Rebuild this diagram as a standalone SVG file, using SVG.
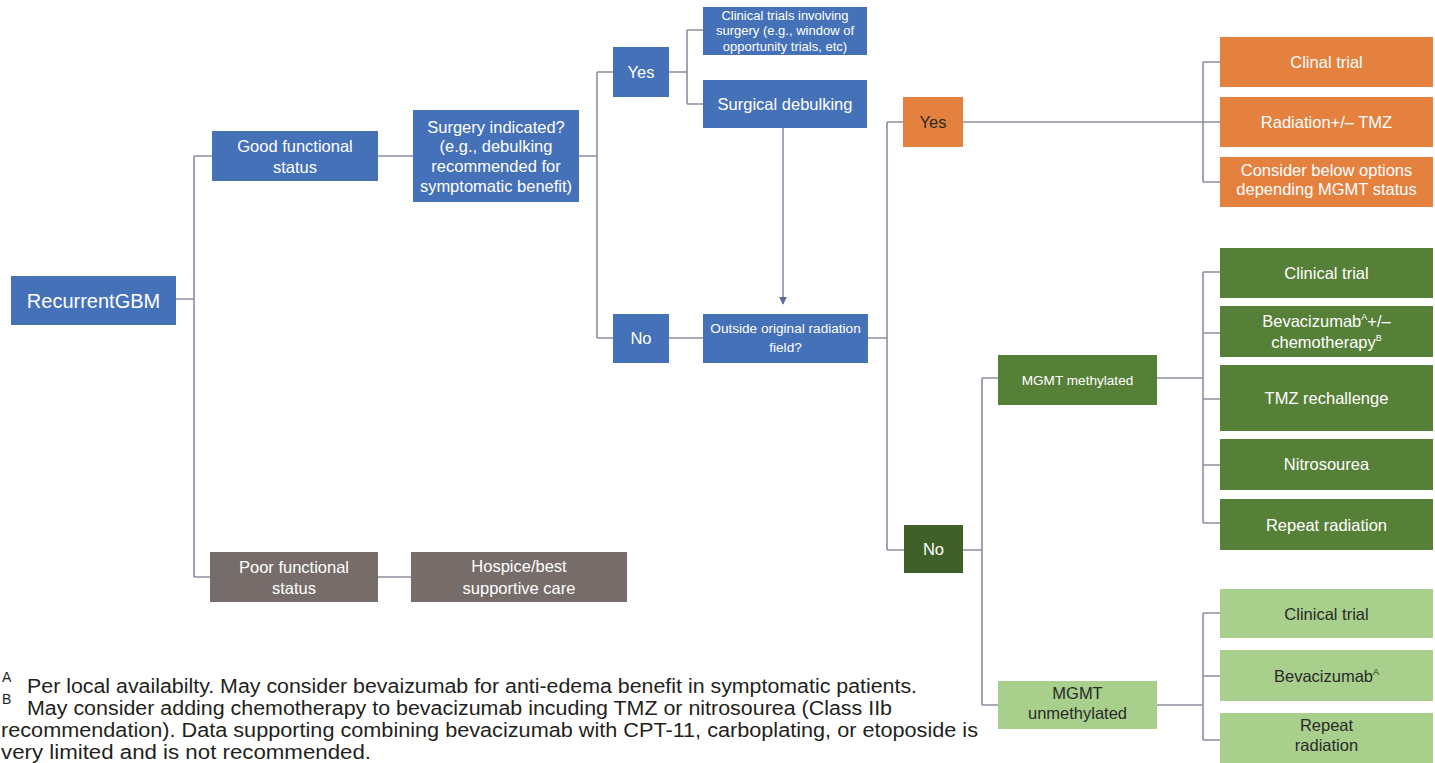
<svg xmlns="http://www.w3.org/2000/svg" width="1435" height="763" viewBox="0 0 1435 763">
  <style>
    text { font-family: "Liberation Sans", Arial, Helvetica, sans-serif; text-anchor: middle; }
    .blue { fill: #4571b9; }
    .orange { fill: #e4813f; }
    .green { fill: #567f37; }
    .dgreen { fill: #3f6129; }
    .lgreen { fill: #a8cf8b; }
    .grey { fill: #766d6a; }
    .w { fill: #ffffff; }
    .d { fill: #2a2a2a; }
    .s17 { font-size: 16.5px; }
    .s13 { font-size: 13px; }
    .s14 { font-size: 13.6px; }
    .note { font-size: 20px; fill: #231f20; text-anchor: start; }
    .sup { font-size: 14px; fill: #231f20; text-anchor: start; }
    .conn { fill: none; stroke: #8a8fa0; stroke-width: 1.6; }
  </style>
  <defs>
    <marker id="arrow" viewBox="0 0 10 10" refX="9" refY="5" markerWidth="8" markerHeight="8" markerUnits="userSpaceOnUse" orient="auto">
      <path d="M0,0 L10,5 L0,10 Z" fill="#5a6a9a"/>
    </marker>
  </defs>

  <rect width="1435" height="763" fill="#ffffff"/>

  <!-- connectors -->
  <g id="connectors">
    <path class="conn" d="M176,299 H194 M194,156 V577 M194,156 H212 M194,577 H210"/>
    <path class="conn" d="M378,156 H413"/>
    <path class="conn" d="M579,156 H597 M597,72 V338 M597,72 H613 M597,338 H613"/>
    <path class="conn" d="M669,72 H687 M687,30 V104 M687,30 H703 M687,104 H703"/>
    <path class="conn" d="M669,338 H703"/>
    <path class="conn" d="M868,338 H887 M887,122 V550 M887,122 H903 M887,550 H904"/>
    <path class="conn" d="M963,122 H1220 M1203,62 V182 M1203,62 H1220 M1203,182 H1220"/>
    <path class="conn" d="M963,550 H982 M982,378 V705 M982,378 H998 M982,705 H998"/>
    <path class="conn" d="M1157,378 H1203 M1203,272 V523 M1203,272 H1220 M1203,333 H1220 M1203,399 H1220 M1203,465 H1220 M1203,523 H1220"/>
    <path class="conn" d="M1157,705 H1203 M1203,613 V740 M1203,613 H1220 M1203,676 H1220 M1203,740 H1220"/>
    <path class="conn" d="M378,577 H411"/>
    <path class="conn" d="M783,128 V304" marker-end="url(#arrow)"/>
  </g>

  <!-- nodes -->
  <g id="recurrent-gbm">
    <rect class="blue" x="11" y="276" width="165" height="49"/>
    <text class="w" x="93.5" y="307.5" font-size="20">RecurrentGBM</text>
  </g>
  <g id="good-status">
    <rect class="blue" x="212" y="131" width="166" height="50"/>
    <text class="w s17" x="295" y="152">Good functional</text>
    <text class="w s17" x="295" y="173">status</text>
  </g>
  <g id="surgery-indicated">
    <rect class="blue" x="413" y="110" width="166" height="92"/>
    <text class="w s17" x="496" y="133">Surgery indicated?</text>
    <text class="w s17" x="496" y="152">(e.g., debulking</text>
    <text class="w s17" x="496" y="172">recommended for</text>
    <text class="w s17" x="496" y="192">symptomatic benefit)</text>
  </g>
  <g id="surgery-yes">
    <rect class="blue" x="613" y="47" width="56" height="50"/>
    <text class="w s17" x="641" y="78">Yes</text>
  </g>
  <g id="surgery-trials">
    <rect class="blue" x="703" y="7" width="164" height="48"/>
    <text class="w s13" x="785" y="19.5">Clinical trials involving</text>
    <text class="w s13" x="785" y="35">surgery (e.g., window of</text>
    <text class="w s13" x="785" y="50.5">opportunity trials, etc)</text>
  </g>
  <g id="surgical-debulking">
    <rect class="blue" x="703" y="80" width="164" height="48"/>
    <text class="w s17" x="785" y="110">Surgical debulking</text>
  </g>
  <g id="surgery-no">
    <rect class="blue" x="613" y="314" width="56" height="49"/>
    <text class="w s17" x="641" y="344">No</text>
  </g>
  <g id="outside-field">
    <rect class="blue" x="703" y="314" width="165" height="49"/>
    <text class="w s14" x="785.5" y="333">Outside original radiation</text>
    <text class="w s14" x="785.5" y="352">field?</text>
  </g>
  <g id="outside-yes">
    <rect class="orange" x="903" y="97" width="60" height="50"/>
    <text class="d s17" x="933" y="128">Yes</text>
  </g>
  <g id="yes-trial">
    <rect class="orange" x="1220" y="37" width="213" height="50"/>
    <text class="w s17" x="1326.5" y="68">Clinal trial</text>
  </g>
  <g id="yes-radiation">
    <rect class="orange" x="1220" y="97" width="213" height="50"/>
    <text class="w s17" x="1326.5" y="128">Radiation+/– TMZ</text>
  </g>
  <g id="yes-consider">
    <rect class="orange" x="1220" y="157" width="213" height="50"/>
    <text class="w s17" x="1326.5" y="176">Consider below options</text>
    <text class="w s17" x="1326.5" y="195">depending MGMT status</text>
  </g>
  <g id="outside-no">
    <rect class="dgreen" x="904" y="525" width="59" height="48"/>
    <text class="w s17" x="933.5" y="555">No</text>
  </g>
  <g id="mgmt-methylated">
    <rect class="green" x="998" y="355" width="159" height="50"/>
    <text class="w s14" x="1077.5" y="385">MGMT methylated</text>
  </g>
  <g id="meth-trial">
    <rect class="green" x="1220" y="248" width="213" height="50"/>
    <text class="w s17" x="1326.5" y="279">Clinical trial</text>
  </g>
  <g id="meth-bevacizumab">
    <rect class="green" x="1220" y="306" width="213" height="51"/>
    <text class="w s17" x="1326.5" y="327">Bevacizumab<tspan font-size="9" dy="-7">A</tspan><tspan dy="7">+/–</tspan></text>
    <text class="w s17" x="1326.5" y="348">chemotherapy<tspan font-size="9" dy="-7">B</tspan></text>
  </g>
  <g id="meth-tmz">
    <rect class="green" x="1220" y="365" width="213" height="66"/>
    <text class="w s17" x="1326.5" y="404">TMZ rechallenge</text>
  </g>
  <g id="meth-nitrosourea">
    <rect class="green" x="1220" y="439" width="213" height="51"/>
    <text class="w s17" x="1326.5" y="470">Nitrosourea</text>
  </g>
  <g id="meth-repeat">
    <rect class="green" x="1220" y="499" width="213" height="51"/>
    <text class="w s17" x="1326.5" y="530.5">Repeat radiation</text>
  </g>
  <g id="mgmt-unmethylated">
    <rect class="lgreen" x="998" y="681" width="159" height="48"/>
    <text class="d s17" x="1077.5" y="699">MGMT</text>
    <text class="d s17" x="1077.5" y="719">unmethylated</text>
  </g>
  <g id="unmeth-trial">
    <rect class="lgreen" x="1220" y="589" width="213" height="49"/>
    <text class="d s17" x="1326.5" y="619.5">Clinical trial</text>
  </g>
  <g id="unmeth-bevacizumab">
    <rect class="lgreen" x="1220" y="650" width="213" height="51"/>
    <text class="d s17" x="1326.5" y="681.5">Bevacizumab<tspan font-size="9" dy="-7">A</tspan></text>
  </g>
  <g id="unmeth-repeat">
    <rect class="lgreen" x="1220" y="713" width="213" height="50"/>
    <text class="d s17" x="1326.5" y="731">Repeat</text>
    <text class="d s17" x="1326.5" y="751">radiation</text>
  </g>
  <g id="poor-status">
    <rect class="grey" x="210" y="552" width="168" height="50"/>
    <text class="w s17" x="294" y="573">Poor functional</text>
    <text class="w s17" x="294" y="594">status</text>
  </g>
  <g id="hospice">
    <rect class="grey" x="411" y="552" width="216" height="50"/>
    <text class="w s17" x="519" y="572">Hospice/best</text>
    <text class="w s17" x="519" y="594">supportive care</text>
  </g>

  <!-- footnotes -->
  <g id="footnotes">
    <text class="sup" x="2" y="682">A</text>
    <text class="note" x="27" y="693" textLength="890" lengthAdjust="spacingAndGlyphs">Per local availabilty. May consider bevaizumab for anti-edema benefit in symptomatic patients.</text>
    <text class="sup" x="2" y="704">B</text>
    <text class="note" x="27" y="715" textLength="865" lengthAdjust="spacingAndGlyphs">May consider adding chemotherapy to bevacizumab incuding TMZ or nitrosourea (Class IIb</text>
    <text class="note" x="1" y="737" textLength="977" lengthAdjust="spacingAndGlyphs">recommendation). Data supporting combining bevacizumab with CPT-11, carboplating, or etoposide is</text>
    <text class="note" x="1" y="759" textLength="370" lengthAdjust="spacingAndGlyphs">very limited and is not recommended.</text>
  </g>
</svg>
